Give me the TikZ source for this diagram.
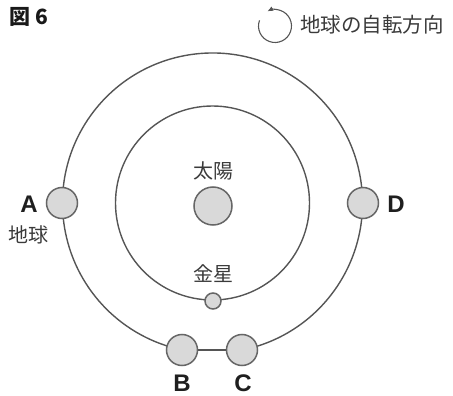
\documentclass[tikz,border=0pt]{standalone}
\usepackage{fontspec}
\setmainfont{Liberation Sans}
\newfontfamily\cjk{Noto Sans CJK JP}
\usetikzlibrary{arrows.meta}
\definecolor{linegray}{HTML}{555555}
\definecolor{rimgray}{HTML}{666666}
\definecolor{planetfill}{HTML}{D9D9D9}
\definecolor{textgray}{HTML}{3A3A3A}
\begin{document}
\begin{tikzpicture}[x=1pt,y=-1pt,
  orbit/.style={draw=linegray, line width=1.4pt},
  planet/.style={circle, draw=rimgray, line width=1.5pt, fill=planetfill, inner sep=0pt, minimum size=#1},
  jlabel/.style={font=\cjk\fontsize{20}{20}\selectfont, text=textgray, inner sep=0pt},
  letter/.style={font=\bfseries\fontsize{24}{24}\selectfont, text=black!88, inner sep=0pt}]
\useasboundingbox (0,0) rectangle (453,396);
\coordinate (O) at (212.5,203);
% orbits
\draw[orbit] ([shift={(281.2:150pt)}]O) arc[start angle=281.2, end angle=618.4, radius=150pt];
\draw[orbit] (O) circle[radius=97pt];
% bodies
\node[planet=31pt] (A) at (62,203) {};
\node[planet=31pt] (D) at (363,203) {};
\node[planet=31pt] (B) at (182,350) {};
\node[planet=31pt] (C) at (242,350) {};
\node[planet=38pt] (S) at (213,206) {};
\node[planet=16pt] (V) at (213,301) {};
\draw[orbit] (B) -- (C);
% labels
\node[jlabel] (sunlbl) at (213,171) {太陽};
\node[jlabel] (venuslbl) at (213,274) {金星};
\node[jlabel] (earthlbl) at (29,235) {地球};
\node[letter] (Albl) at (29,204) {A};
\node[letter] (Dlbl) at (396,204) {D};
\node[letter] (Blbl) at (182,383) {B};
\node[letter] (Clbl) at (243,383) {C};
\node[font=\cjk\bfseries\fontsize{21}{21}\selectfont, text=black!90, inner sep=0pt, anchor=west] (title) at (9,17) {図 6};
% legend
\coordinate (lc) at (275,26);
\draw[line width=1.1pt, draw=linegray, -{Latex[length=6pt,width=5pt]}] ([shift={(160:16.5pt)}]lc) arc[start angle=160, end angle=478, radius=16.5pt];
\node[jlabel, anchor=west, font=\cjk\fontsize{20.5}{20.5}\selectfont] (legend) at (300,25) {地球の自転方向};
\end{tikzpicture}
\end{document}
